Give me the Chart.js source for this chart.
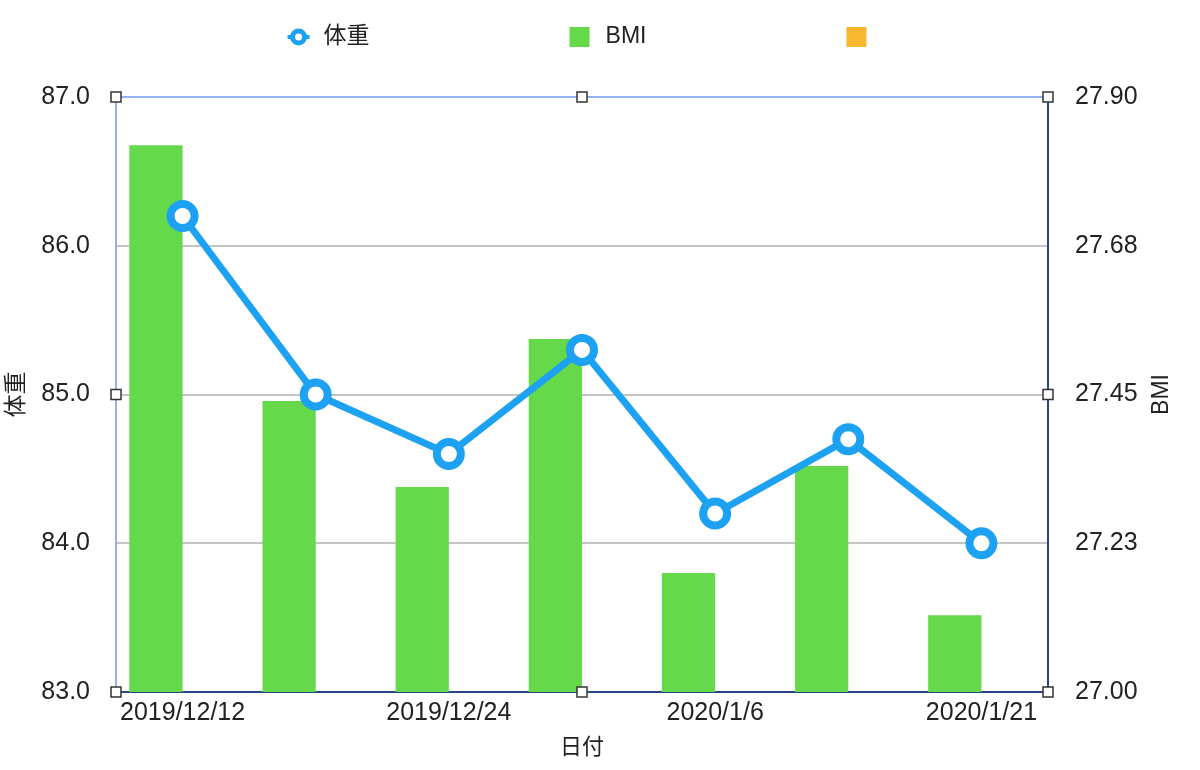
<!DOCTYPE html>
<html lang="ja">
<head>
<meta charset="utf-8">
<title>体重とBMI</title>
<script src="https://cdn.jsdelivr.net/npm/chart.js@4.4.1/dist/chart.umd.min.js"></script>
<style>
  html, body { margin: 0; padding: 0; background: #fff; }
  #wrap { width: 1200px; height: 770px; }
</style>
</head>
<body>
<div id="wrap"><canvas id="grafico"></canvas></div>
<script>
// datos
const dates = ['2019/12/12', '2019/12/18', '2019/12/24', '2019/12/30', '2020/1/6', '2020/1/14', '2020/1/21'];
const weight = [86.2, 85.0, 84.6, 85.3, 84.2, 84.7, 84.0];
const bmi = [27.827, 27.44, 27.31, 27.534, 27.18, 27.342, 27.116];
const weightTicks = ['83.0', '84.0', '85.0', '86.0', '87.0'];
const bmiTicks = ['27.00', '27.23', '27.45', '27.68', '27.90'];

const blue = '#1da1f2';
const green = '#66d94b';
const orange = '#f7b731';
const navy = '#27468a';
const lightBlue = '#93b2f4';
const fontFamily = "'Liberation Sans', 'Noto Sans CJK JP', sans-serif";

// leyenda dibujada a mano para tener el espaciado ancho
const customLegend = {
    id: 'customLegend',
    afterDraw(chart) {
        const ctx = chart.ctx;
        const area = chart.chartArea;
        const y = 37;
        const gap = 200;
        ctx.save();
        ctx.font = '23px ' + fontFamily;
        ctx.textBaseline = 'middle';
        const items = chart.data.datasets.map(ds => ({
            ds: ds,
            width: 22 + (ds.label ? 14 + ctx.measureText(ds.label).width : 0)
        }));
        const total = items.reduce((s, it) => s + it.width, 0) + gap * (items.length - 1);
        let x = (area.left + area.right) / 2 - total / 2 - 4;
        items.forEach(it => {
            const ds = it.ds;
            if (ds.type === 'line') {
                ctx.strokeStyle = ds.borderColor;
                ctx.lineWidth = 4;
                ctx.beginPath();
                ctx.moveTo(x, y);
                ctx.lineTo(x + 22, y);
                ctx.stroke();
                ctx.lineWidth = 5;
                ctx.fillStyle = '#fff';
                ctx.beginPath();
                ctx.arc(x + 11, y, 6, 0, Math.PI * 2);
                ctx.fill();
                ctx.stroke();
            } else {
                ctx.fillStyle = ds.backgroundColor;
                ctx.fillRect(x, y - 10, 20, 20);
            }
            if (ds.label) {
                ctx.fillStyle = '#222';
                ctx.fillText(ds.label, x + 36, y);
            }
            x += it.width + gap;
        });
        ctx.restore();
    }
};

// borde superior, titulo del eje derecho y los cuadritos de seleccion
const frameExtras = {
    id: 'frameExtras',
    afterDraw(chart) {
        const ctx = chart.ctx;
        const a = chart.chartArea;
        ctx.save();
        ctx.strokeStyle = lightBlue;
        ctx.lineWidth = 2;
        ctx.beginPath();
        ctx.moveTo(a.left, a.top);
        ctx.lineTo(a.right, a.top);
        ctx.stroke();

        const midX = (a.left + a.right) / 2;
        const midY = (a.top + a.bottom) / 2;
        const handles = [
            [a.left, a.top], [midX, a.top], [a.right, a.top],
            [a.left, midY], [a.right, midY],
            [a.left, a.bottom], [midX, a.bottom], [a.right, a.bottom]
        ];
        ctx.fillStyle = '#fff';
        ctx.strokeStyle = '#333';
        ctx.lineWidth = 1.5;
        handles.forEach(h => {
            ctx.fillRect(h[0] - 5, h[1] - 5, 10, 10);
            ctx.strokeRect(h[0] - 5, h[1] - 5, 10, 10);
        });

        const right = chart.scales.y1;
        ctx.translate(right.right - 38, midY);
        ctx.rotate(-Math.PI / 2);
        ctx.font = '23px ' + fontFamily;
        ctx.fillStyle = '#222';
        ctx.textAlign = 'center';
        ctx.textBaseline = 'middle';
        ctx.fillText('BMI', 0, 0);
        ctx.restore();
    }
};

const grafico = document.getElementById('grafico');

const chartPeso = new Chart(grafico, {
    data: {
        labels: dates,
        datasets: [{
            type: 'line',
            label: '体重',
            data: weight,
            yAxisID: 'y',
            borderColor: blue,
            borderWidth: 7,
            pointRadius: 12,
            pointHoverRadius: 12,
            pointBorderWidth: 8,
            pointBackgroundColor: '#fff',
            pointBorderColor: blue,
            tension: 0,
            order: 0
        }, {
            type: 'bar',
            label: 'BMI',
            data: bmi,
            yAxisID: 'y1',
            backgroundColor: green,
            categoryPercentage: 0.8,
            barPercentage: 1.0,
            order: 1
        }, {
            type: 'bar',
            label: '',
            data: [],
            yAxisID: 'y1',
            backgroundColor: orange,
            categoryPercentage: 0.8,
            barPercentage: 1.0,
            order: 1
        }]
    },
    options: {
        responsive: true,
        maintainAspectRatio: false,
        animation: false,
        layout: { padding: { top: 97, left: 0, right: 0, bottom: 0 } },
        plugins: {
            legend: { display: false },
            tooltip: { enabled: false }
        },
        scales: {
            x: {
                grid: { display: false, drawTicks: false },
                border: { color: navy, width: 2 },
                ticks: {
                    autoSkip: false,
                    maxRotation: 0,
                    padding: 6,
                    color: '#222',
                    font: { family: fontFamily, size: 25 },
                    callback: (val, i) => i % 2 === 0 ? dates[i] : ''
                },
                title: {
                    display: true,
                    text: '日付',
                    color: '#222',
                    padding: { top: 9, bottom: 9 },
                    font: { family: fontFamily, size: 22 }
                },
                afterFit: scale => { scale.height = 78; }
            },
            y: {
                position: 'left',
                min: 83,
                max: 87,
                ticks: {
                    count: 5,
                    padding: 26,
                    color: '#222',
                    font: { family: fontFamily, size: 25 },
                    callback: (val, i) => weightTicks[i]
                },
                grid: {
                    drawTicks: false,
                    lineWidth: 2,
                    color: ctx => (ctx.index === 0 || ctx.index === 4) ? 'rgba(0,0,0,0)' : '#c4c4c4'
                },
                border: { color: lightBlue, width: 2 },
                title: {
                    display: true,
                    text: '体重',
                    color: '#222',
                    padding: { top: 3, bottom: 3 },
                    font: { family: fontFamily, size: 23 }
                },
                afterFit: scale => { scale.width = 116; }
            },
            y1: {
                position: 'right',
                min: 27.0,
                max: 27.9,
                ticks: {
                    count: 5,
                    padding: 27,
                    color: '#222',
                    font: { family: fontFamily, size: 25 },
                    callback: (val, i) => bmiTicks[i]
                },
                grid: { display: false, drawTicks: false },
                border: { color: navy, width: 2 },
                afterFit: scale => { scale.width = 152; }
            }
        }
    },
    plugins: [customLegend, frameExtras]
});
</script>
</body>
</html>
